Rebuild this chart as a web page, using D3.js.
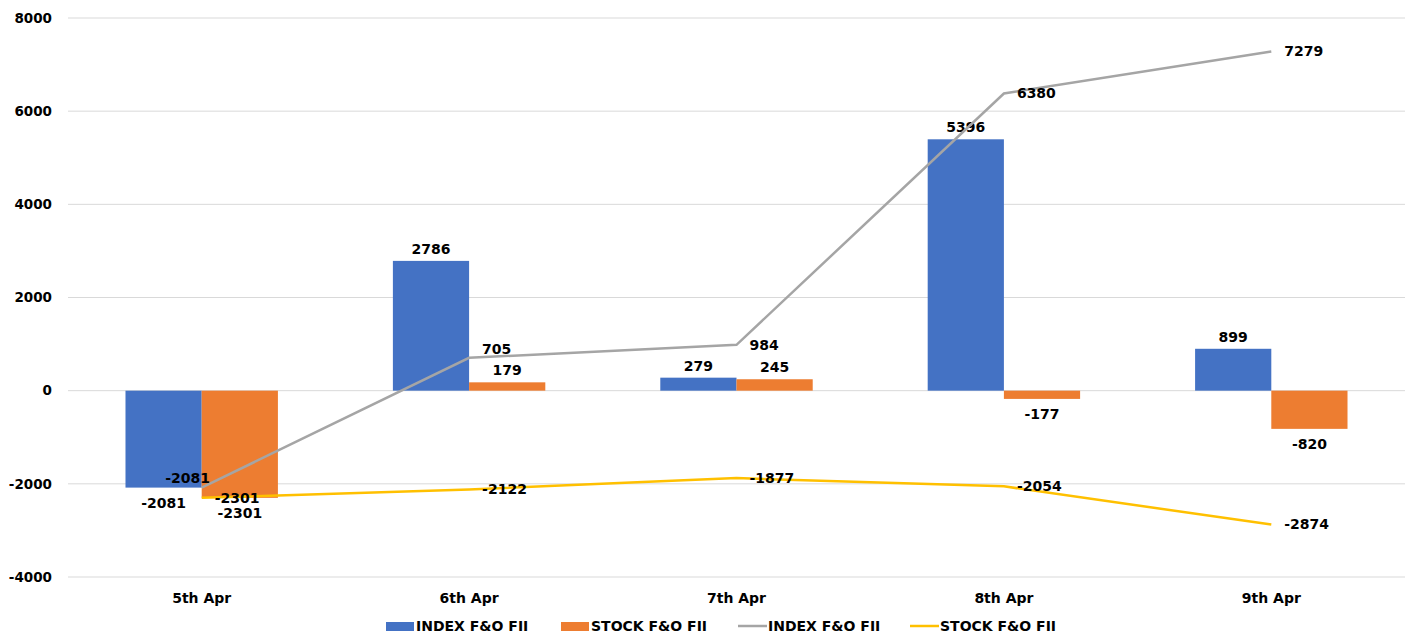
<!DOCTYPE html>
<html>
<head>
<meta charset="utf-8">
<script src="https://cdn.jsdelivr.net/npm/d3@7"></script>
<style>
  body { margin: 0; background: #fff; }
  text { font-family: "DejaVu Sans", sans-serif; font-weight: bold; fill: #000; }
</style>
</head>
<body>
<div id="chart"></div>
<script>
const dates = ["5th Apr", "6th Apr", "7th Apr", "8th Apr", "9th Apr"];
const indexFO = [-2081, 2786, 279, 5396, 899];
const stockFO = [-2301, 179, 245, -177, -820];
const indexCum = [-2081, 705, 984, 6380, 7279];
const stockCum = [-2301, -2122, -1877, -2054, -2874];
const yTicks = [-4000, -2000, 0, 2000, 4000, 6000, 8000];

const W = 1410, H = 635;
const plot = {left: 68, right: 1405, top: 18, bottom: 577};

const svg = d3.select("#chart").append("svg")
    .attr("width", W)
    .attr("height", H);

const x = d3.scaleBand().domain(dates).range([plot.left, plot.right]).padding(0);
const y = d3.scaleLinear().domain([-4000, 8000]).range([plot.bottom, plot.top]);

const gw = x.bandwidth() * 0.57;
const xs = d3.scaleBand().domain(["idx", "stk"]).range([-gw / 2, gw / 2]);
const cx = d => x(d) + x.bandwidth() / 2;

// gridlines + y labels
svg.append("g")
   .selectAll("line")
   .data(yTicks)
   .join("line")
     .attr("x1", plot.left).attr("x2", plot.right)
     .attr("y1", d => y(d)).attr("y2", d => y(d))
     .attr("stroke", "#d9d9d9").attr("stroke-width", 1);

svg.append("g")
   .selectAll("text")
   .data(yTicks)
   .join("text")
     .attr("x", 52).attr("y", d => y(d))
     .attr("dy", "0.35em")
     .attr("text-anchor", "end")
     .style("font-size", "13.5px")
     .text(d => d);

// x labels
svg.append("g")
   .selectAll("text")
   .data(dates)
   .join("text")
     .attr("x", d => cx(d)).attr("y", 603)
     .attr("text-anchor", "middle")
     .style("font-size", "14px")
     .text(d => d);

// bars
const bars = [
  {key: "idx", vals: indexFO, color: "#4472c4"},
  {key: "stk", vals: stockFO, color: "#ed7d31"}
];
bars.forEach(s => {
  const g = svg.append("g");
  g.selectAll("rect")
   .data(s.vals)
   .join("rect")
     .attr("x", (d, i) => cx(dates[i]) + xs(s.key))
     .attr("width", xs.bandwidth())
     .attr("y", d => y(Math.max(0, d)))
     .attr("height", d => Math.abs(y(d) - y(0)))
     .attr("fill", s.color);
  g.selectAll("text")
   .data(s.vals)
   .join("text")
     .attr("x", (d, i) => cx(dates[i]) + xs(s.key) + xs.bandwidth() / 2)
     .attr("y", d => d >= 0 ? y(d) - 7 : y(d) + 20)
     .attr("text-anchor", "middle")
     .style("font-size", "14px")
     .text(d => d);
});

// lines
const lines = [
  {vals: indexCum, color: "#a5a5a5"},
  {vals: stockCum, color: "#ffc000"}
];
const line = d3.line()
    .x((d, i) => cx(dates[i]))
    .y(d => y(d));

lines.forEach((s, si) => {
  svg.append("path")
     .datum(s.vals)
     .attr("fill", "none")
     .attr("stroke", s.color)
     .attr("stroke-width", 2.5)
     .attr("d", line);
  svg.append("g")
     .selectAll("text")
     .data(s.vals)
     .join("text")
       .attr("x", (d, i) => (si === 0 && i === 0) ? cx(dates[i]) - 14 : cx(dates[i]) + 13)
       .attr("y", (d, i) => (si === 0 && i === 0) ? y(d) - 10 : (si === 0 && i === 1 ? y(d) - 9 : y(d)))
       .attr("dy", "0.35em")
       .attr("text-anchor", (d, i) => (si === 0 && i === 0) ? "middle" : "start")
       .style("font-size", "14px")
       .text(d => d);
});

// legend
const legend = [
  {label: "INDEX F&O FII", color: "#4472c4", type: "rect", x: 386},
  {label: "STOCK F&O FII", color: "#ed7d31", type: "rect", x: 561},
  {label: "INDEX F&O FII", color: "#a5a5a5", type: "line", x: 738},
  {label: "STOCK F&O FII", color: "#ffc000", type: "line", x: 910}
];
const lg = svg.append("g").attr("transform", "translate(0,626)");
legend.forEach(l => {
  if (l.type === "rect") {
    lg.append("rect").attr("x", l.x).attr("y", -4).attr("width", 28).attr("height", 9).attr("fill", l.color);
  } else {
    lg.append("line").attr("x1", l.x).attr("x2", l.x + 29).attr("y1", 0).attr("y2", 0)
      .attr("stroke", l.color).attr("stroke-width", 2.5);
  }
  lg.append("text").attr("x", l.x + 30).attr("y", 0).attr("dy", "0.35em")
    .style("font-size", "14px").text(l.label);
});
</script>
</body>
</html>
